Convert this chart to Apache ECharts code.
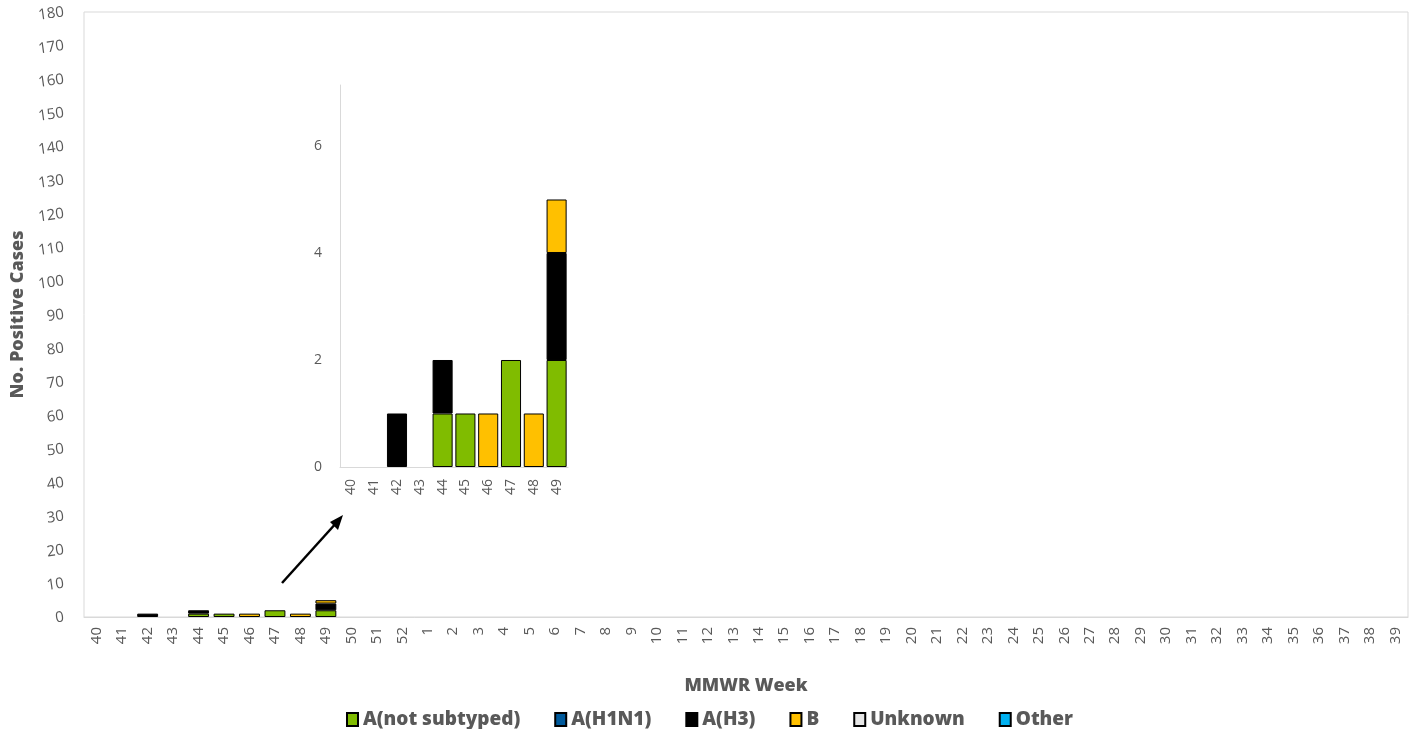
<!DOCTYPE html>
<html>
<head>
<meta charset="utf-8">
<script src="https://cdn.jsdelivr.net/npm/echarts@6/dist/echarts.min.js"></script>
<style>html,body{margin:0;padding:0;background:#fff;}#c{width:1419px;height:729px;}</style>
</head>
<body>
<div id="c"></div>
<script>
const weeks = ['40','41','42','43','44','45','46','47','48','49','50','51','52','1','2','3','4','5','6','7','8','9','10','11','12','13','14','15','16','17','18','19','20','21','22','23','24','25','26','27','28','29','30','31','32','33','34','35','36','37','38','39'];
const insetWeeks = ['40','41','42','43','44','45','46','47','48','49'];
const aNotSubtyped = [0,0,0,0,1,1,0,2,0,2];
const aH1N1 = [0,0,0,0,0,0,0,0,0,0];
const aH3 = [0,0,1,0,1,0,0,0,0,2];
const bVals = [0,0,0,0,0,0,1,0,1,1];
const unknownVals = [0,0,0,0,0,0,0,0,0,0];
const otherVals = [0,0,0,0,0,0,0,0,0,0];
const yTicks = {min:0, max:180, interval:10};

const seriesDefs = [
  {name:'A(not subtyped)', data:aNotSubtyped, color:'#80BC00'},
  {name:'A(H1N1)', data:aH1N1, color:'#005A9C'},
  {name:'A(H3)', data:aH3, color:'#000000'},
  {name:'B', data:bVals, color:'#FFC000'},
  {name:'Unknown', data:unknownVals, color:'#E6E6E6'},
  {name:'Other', data:otherVals, color:'#00B0F0'}
];
const clean = arr => arr.map(v => v === 0 ? null : v);
const font = 'Open Sans';
const grey = '#595959';

const series = [];
seriesDefs.forEach(s => {
  series.push({
    name:s.name, type:'bar', stack:'main', xAxisIndex:0, yAxisIndex:0,
    data:clean(s.data), barCategoryGap:'18%',
    itemStyle:{color:s.color, borderColor:'#000', borderWidth:1}
  });
});
seriesDefs.forEach(s => {
  series.push({
    name:s.name, type:'bar', stack:'inset', xAxisIndex:1, yAxisIndex:1,
    data:clean(s.data), barCategoryGap:'12%',
    itemStyle:{color:s.color, borderColor:'#000', borderWidth:1}
  });
});

const chart = echarts.init(document.getElementById('c'));
chart.setOption({
  animation:false,
  backgroundColor:'#fff',
  textStyle:{fontFamily:font},
  grid:[
    {left:84, right:11, top:12, bottom:112, show:true, borderColor:'#d9d9d9', borderWidth:1, backgroundColor:'transparent', outerBoundsMode:'none', containLabel:false},
    {left:340, right:851, top:85, bottom:262, outerBoundsMode:'none', containLabel:false}
  ],
  legend:{
    bottom:-5, left:'center', icon:'rect', itemWidth:11, itemHeight:13, itemGap:34,
    data:seriesDefs.map(s=>s.name),
    textStyle:{fontFamily:font, fontWeight:800, fontSize:19, color:grey}
  },
  xAxis:[
    {type:'category', gridIndex:0, data:weeks, name:'MMWR Week', nameLocation:'middle', nameGap:60,
     nameTextStyle:{fontFamily:font, fontWeight:800, fontSize:18, color:grey},
     axisLine:{lineStyle:{color:'#d9d9d9'}}, axisTick:{show:false},
     axisLabel:{rotate:90, interval:0, color:grey, fontSize:15, fontFamily:font, margin:10}},
    {type:'category', gridIndex:1, data:insetWeeks,
     axisLine:{lineStyle:{color:'#d9d9d9'}}, axisTick:{show:false},
     axisLabel:{rotate:90, interval:0, color:grey, fontSize:14, fontFamily:font, margin:12}}
  ],
  yAxis:[
    {type:'value', gridIndex:0, min:yTicks.min, max:yTicks.max, interval:yTicks.interval,
     name:'No. Positive Cases', nameLocation:'middle', nameGap:56,
     nameTextStyle:{fontFamily:font, fontWeight:800, fontSize:18, color:grey},
     axisLine:{show:false}, axisTick:{show:false}, splitLine:{show:false},
     axisLabel:{color:grey, fontSize:15, fontFamily:font, margin:20, rotate:8}},
    {type:'value', gridIndex:1, min:0, max:7.14, interval:2,
     axisLine:{show:true, lineStyle:{color:'#d9d9d9'}}, axisTick:{show:false}, splitLine:{show:false},
     axisLabel:{color:grey, fontSize:14, fontFamily:font, margin:18, showMaxLabel:false}}
  ],
  graphic:[
    {type:'line', shape:{x1:282, y1:583, x2:338, y2:521}, style:{stroke:'#000', lineWidth:2.5}},
    {type:'polygon', shape:{points:[[343,515],[330,522],[338,530]]}, style:{fill:'#000'}}
  ],
  series:series
});
</script>
</body>
</html>
